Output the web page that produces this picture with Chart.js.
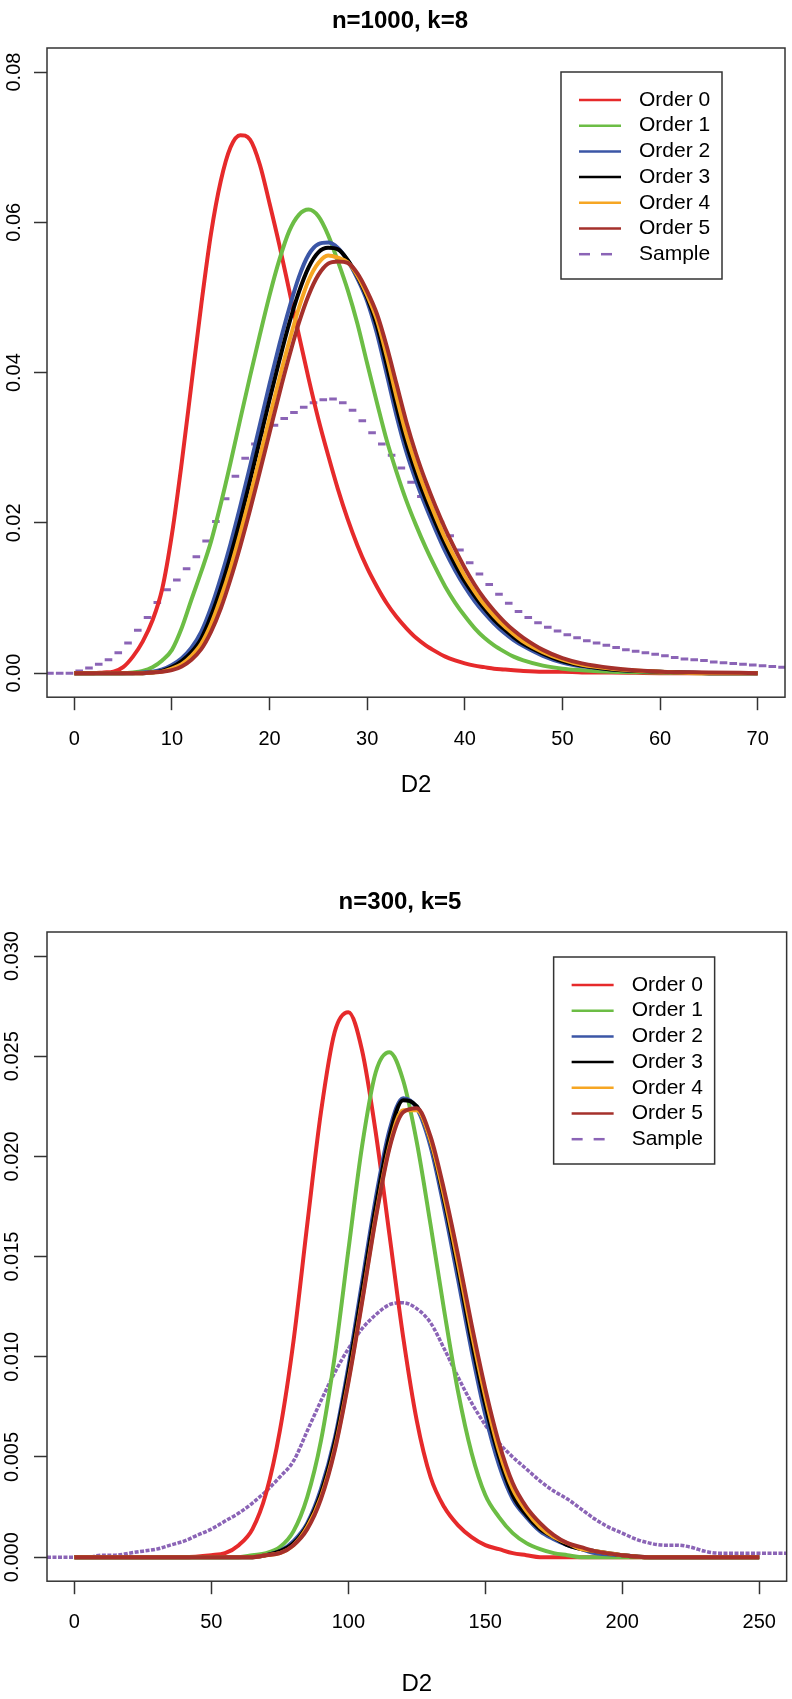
<!DOCTYPE html>
<html>
<head>
<meta charset="utf-8">
<title>D2 densities</title>
<script src="https://cdn.jsdelivr.net/npm/chart.js@4.4.0/dist/chart.umd.min.js"></script>
<style>
  html, body { margin: 0; padding: 0; background: #fff; }
  canvas { display: block; }
</style>
</head>
<body>
<canvas id="chart-top" width="792" height="850"></canvas>
<canvas id="chart-bottom" width="792" height="849"></canvas>
<script>
//Shared names and colours

var seriesNames = ["Order 0", "Order 1", "Order 2", "Order 3", "Order 4", "Order 5", "Sample"];
var seriesColors = ["#e62a2b", "#6cbd45", "#3b56a6", "#000000", "#f6a623", "#a5302b", "#8b64b6"];

//Top panel: n=1000, k=8

var titleTop = "n=1000, k=8";
var xTicksTop = [0, 10, 20, 30, 40, 50, 60, 70];
var yTicksTop = [0, 0.02, 0.04, 0.06, 0.08];
var yLabelsTop = ["0.00", "0.02", "0.04", "0.06", "0.08"];

var xTop = [0, 1, 2, 3, 4, 5, 6, 7, 8, 9,
    10, 11, 12, 13, 14, 15, 16, 17, 18, 19,
    20, 21, 22, 23, 24, 25, 26, 27, 28, 29,
    30, 31, 32, 33, 34, 35, 36, 37, 38, 39,
    40, 41, 42, 43, 44, 45, 46,
    48, 50, 52, 55, 60, 65, 70];

var order0Top = [0, 0, 0, 0.0001, 0.0002, 0.0008, 0.0022, 0.0042, 0.0070, 0.0112,
    0.0185, 0.0280, 0.0385, 0.0490, 0.0585, 0.0655, 0.0700, 0.0716, 0.0710, 0.0677,
    0.0625, 0.0570, 0.0510, 0.0450, 0.0392, 0.0338, 0.0290, 0.0245, 0.0205, 0.0170,
    0.0140, 0.0115, 0.0093, 0.0075, 0.0060, 0.0047, 0.0037, 0.0029, 0.0022, 0.0017,
    0.0013, 0.0010, 0.0008, 0.0006, 0.0005, 0.0004, 0.0003,
    0.0002, 0.0002, 0.0001, 0.0001, 0, 0, 0];
var order1Top = [0, 0, 0, 0, 0, 0, 0.0001, 0.0003, 0.0008, 0.0017,
    0.0031, 0.0060, 0.0098, 0.0135, 0.0175, 0.0225, 0.0280, 0.0338, 0.0395, 0.0450,
    0.0503, 0.0550, 0.0588, 0.0610, 0.0617, 0.0608, 0.0583, 0.0548, 0.0510, 0.0465,
    0.0412, 0.0360, 0.0310, 0.0268, 0.0230, 0.0197, 0.0167, 0.0140, 0.0115, 0.0094,
    0.0076, 0.0060, 0.0047, 0.0037, 0.0029, 0.0022, 0.0017,
    0.0010, 0.0006, 0.0004, 0.0002, 0.0001, 0, 0];
var order2Top = [0, 0, 0, 0, 0, 0, 0, 0.0001, 0.0002, 0.0005,
    0.0011, 0.0020, 0.0034, 0.0055, 0.0087, 0.0127, 0.0172, 0.0222, 0.0275, 0.0330,
    0.0385, 0.0437, 0.0485, 0.0527, 0.0557, 0.0571, 0.0573, 0.0566, 0.0549, 0.0525,
    0.0495, 0.0452, 0.0398, 0.0343, 0.0295, 0.0256, 0.0222, 0.0191, 0.0162, 0.0137,
    0.0115, 0.0096, 0.0080, 0.0066, 0.0054, 0.0044, 0.0036,
    0.0023, 0.0014, 0.0009, 0.0005, 0.0002, 0, 0];
var order3Top = [0, 0, 0, 0, 0, 0, 0, 0, 0.0001, 0.0003,
    0.0008, 0.0016, 0.0028, 0.0046, 0.0076, 0.0113, 0.0156, 0.0204, 0.0256, 0.0310,
    0.0364, 0.0416, 0.0465, 0.0507, 0.0540, 0.0560, 0.0566, 0.0564, 0.0550, 0.0528,
    0.0500, 0.0462, 0.0410, 0.0355, 0.0306, 0.0266, 0.0231, 0.0200, 0.0171, 0.0145,
    0.0122, 0.0103, 0.0086, 0.0071, 0.0059, 0.0048, 0.0039,
    0.0026, 0.0016, 0.0010, 0.0005, 0.0002, 0, 0];
var order4Top = [0, 0, 0, 0, 0, 0, 0, 0, 0.0001, 0.0002,
    0.0006, 0.0012, 0.0023, 0.0039, 0.0065, 0.0100, 0.0140, 0.0186, 0.0235, 0.0287,
    0.0340, 0.0392, 0.0441, 0.0486, 0.0523, 0.0546, 0.0556, 0.0553, 0.0547, 0.0529,
    0.0503, 0.0470, 0.0422, 0.0368, 0.0318, 0.0277, 0.0241, 0.0209, 0.0179, 0.0153,
    0.0129, 0.0109, 0.0091, 0.0076, 0.0063, 0.0052, 0.0042,
    0.0028, 0.0018, 0.0011, 0.0006, 0.0002, 0, 0];
var order5Top = [0, 0, 0, 0, 0, 0, 0, 0, 0.0001, 0.0002,
    0.0004, 0.0009, 0.0018, 0.0032, 0.0055, 0.0086, 0.0125, 0.0169, 0.0217, 0.0268,
    0.0320, 0.0372, 0.0421, 0.0466, 0.0503, 0.0530, 0.0545, 0.0548, 0.0546, 0.0532,
    0.0508, 0.0478, 0.0435, 0.0385, 0.0335, 0.0292, 0.0255, 0.0222, 0.0192, 0.0165,
    0.0140, 0.0118, 0.0099, 0.0083, 0.0069, 0.0057, 0.0047,
    0.0031, 0.0020, 0.0013, 0.0007, 0.0002, 0.0001, 0];

// sample histogram, one value per unit bin (bin centres)
var sampleXTop = [-2.5, -1.5, -0.5, 0.5, 1.5, 2.5, 3.5, 4.5, 5.5, 6.5,
    7.5, 8.5, 9.5, 10.5, 11.5, 12.5, 13.5, 14.5, 15.5, 16.5,
    17.5, 18.5, 19.5, 20.5, 21.5, 22.5, 23.5, 24.5, 25.5, 26.5,
    27.5, 28.5, 29.5, 30.5, 31.5, 32.5, 33.5, 34.5, 35.5, 36.5,
    37.5, 38.5, 39.5, 40.5, 41.5, 42.5, 43.5, 44.5, 45.5, 46.5,
    47.5, 48.5, 49.5, 50.5, 51.5, 52.5, 53.5, 54.5, 55.5, 56.5,
    57.5, 58.5, 59.5, 60.5, 61.5, 62.5, 63.5, 64.5, 65.5, 66.5,
    67.5, 68.5, 69.5, 70.5, 71.5, 72.5, 73.5];
var sampleTop = [0, 0, 0, 0.0003, 0.0007, 0.0012, 0.0018, 0.0027, 0.0040, 0.0057,
    0.0074, 0.0094, 0.0111, 0.0124, 0.0139, 0.0155, 0.0176, 0.0202, 0.0232, 0.0262,
    0.0286, 0.0305, 0.0320, 0.0330, 0.0339, 0.0347, 0.0354, 0.0360, 0.0364, 0.0365,
    0.0360, 0.0350, 0.0336, 0.0320, 0.0305, 0.0290, 0.0273, 0.0254, 0.0235, 0.0217,
    0.0201, 0.0183, 0.0164, 0.0147, 0.0132, 0.0118, 0.0105, 0.0093, 0.0082, 0.0074,
    0.0067, 0.0061, 0.0056, 0.0051, 0.0047, 0.0043, 0.0040, 0.0037, 0.0034, 0.0031,
    0.0029, 0.0027, 0.0025, 0.0023, 0.0021, 0.0019, 0.0018, 0.0017, 0.0015, 0.0014,
    0.0013, 0.0012, 0.0011, 0.0010, 0.0009, 0.0008, 0.0008];

//Bottom panel: n=300, k=5

var titleBottom = "n=300, k=5";
var xTicksBottom = [0, 50, 100, 150, 200, 250];
var yTicksBottom = [0, 0.005, 0.010, 0.015, 0.020, 0.025, 0.030];
var yLabelsBottom = ["0.000", "0.005", "0.010", "0.015", "0.020", "0.025", "0.030"];

var xBottom = [0, 10, 20, 30, 40,
    50, 55, 60, 65, 70, 75, 80, 85, 90, 95,
    100, 105, 110, 115, 120, 125, 130, 135, 140, 145,
    150, 155, 160, 165, 170, 175, 180, 185, 190,
    200, 210, 220, 230, 240, 250];

var order0Bottom = [0, 0, 0, 0, 0,
    0.0001, 0.0002, 0.0006, 0.0014, 0.0032, 0.0063, 0.0108, 0.0166, 0.0222, 0.0262,
    0.0272, 0.0253, 0.0212, 0.0161, 0.0110, 0.0068, 0.0040, 0.0025, 0.0016, 0.0010,
    0.0006, 0.0004, 0.0002, 0.0001, 0, 0, 0, 0, 0,
    0, 0, 0, 0, 0, 0];
var order1Bottom = [0, 0, 0, 0, 0,
    0, 0, 0, 0.0001, 0.0002, 0.0005, 0.0013, 0.0030, 0.0058, 0.0100,
    0.0153, 0.0205, 0.0242, 0.0252, 0.0238, 0.0207, 0.0166, 0.0123, 0.0083, 0.0052,
    0.0031, 0.0020, 0.0012, 0.0007, 0.0004, 0.0002, 0.0001, 0, 0,
    0, 0, 0, 0, 0, 0];
var order2Bottom = [0, 0, 0, 0, 0,
    0, 0, 0, 0, 0.0001, 0.0003, 0.0008, 0.0017, 0.0034, 0.0059,
    0.0095, 0.0137, 0.0179, 0.0213, 0.0229, 0.0224, 0.0205, 0.0174, 0.0139, 0.0103,
    0.0071, 0.0046, 0.0029, 0.0020, 0.0013, 0.0009, 0.0006, 0.0004, 0.0002,
    0.0001, 0, 0, 0, 0, 0];
var order3Bottom = [0, 0, 0, 0, 0,
    0, 0, 0, 0, 0.0001, 0.0003, 0.0007, 0.0016, 0.0032, 0.0057,
    0.0092, 0.0133, 0.0175, 0.0210, 0.0228, 0.0225, 0.0208, 0.0178, 0.0144, 0.0108,
    0.0076, 0.0050, 0.0031, 0.0021, 0.0014, 0.0010, 0.0006, 0.0004, 0.0003,
    0.0001, 0, 0, 0, 0, 0];
var order4Bottom = [0, 0, 0, 0, 0,
    0, 0, 0, 0, 0.0001, 0.0002, 0.0006, 0.0015, 0.0030, 0.0054,
    0.0088, 0.0128, 0.0170, 0.0205, 0.0223, 0.0223, 0.0208, 0.0180, 0.0147, 0.0112,
    0.0080, 0.0053, 0.0034, 0.0023, 0.0015, 0.0010, 0.0007, 0.0004, 0.0003,
    0.0001, 0, 0, 0, 0, 0];
var order5Bottom = [0, 0, 0, 0, 0,
    0, 0, 0, 0, 0.0001, 0.0002, 0.0006, 0.0014, 0.0029, 0.0053,
    0.0087, 0.0127, 0.0169, 0.0204, 0.0222, 0.0224, 0.0210, 0.0183, 0.0151, 0.0116,
    0.0084, 0.0057, 0.0037, 0.0025, 0.0017, 0.0011, 0.0007, 0.0005, 0.0003,
    0.0001, 0, 0, 0, 0, 0];

var sampleXBottom = [-10, 0, 5, 10, 15, 20, 25, 30, 35, 40, 45,
    50, 55, 60, 65, 70, 75, 80, 85, 90, 95,
    100, 105, 110, 115, 120, 125, 130, 135, 140, 145,
    150, 155, 160, 165, 170, 175, 180, 185, 190, 195,
    200, 205, 210, 215, 220, 225, 230, 235, 240, 245,
    250, 260];
var sampleBottom = [0, 0, 0, 0.0001, 0.0001, 0.0002, 0.0003, 0.0004, 0.0006, 0.0008, 0.0011,
    0.0014, 0.0018, 0.0022, 0.0027, 0.0033, 0.0040, 0.0048, 0.0063, 0.0078, 0.0092,
    0.0104, 0.0114, 0.0121, 0.0126, 0.0127, 0.0124, 0.0117, 0.0104, 0.0090, 0.0077,
    0.0066, 0.0057, 0.0050, 0.0044, 0.0038, 0.0033, 0.0029, 0.0024, 0.0019, 0.0015,
    0.0012, 0.0009, 0.0007, 0.0006, 0.0006, 0.0005, 0.0003, 0.0002, 0.0002, 0.0002,
    0.0002, 0.0002];

//Helpers

var fontFamily = "'Liberation Sans', Arial, Helvetica, sans-serif";
Chart.defaults.font.family = fontFamily;
Chart.defaults.color = "#000";

function points(xs, ys) {
    return xs.map(function (x, i) {
        return { x: x, y: ys[i] };
    });
}

function curve(i, xs, ys) {
    return {
        label: seriesNames[i],
        data: points(xs, ys),
        borderColor: seriesColors[i],
        borderWidth: 4,
        pointRadius: 0,
        cubicInterpolationMode: "monotone",
        order: 5 - i
    };
}

// frame around the plot region, rotated y labels (R style) and legend box
var framePlugin = {
    id: "frame",
    afterDraw: function (chart, args, opts) {
        var ctx = chart.ctx,
            area = chart.chartArea,
            yScale = chart.scales.y;
        ctx.save();
        ctx.strokeStyle = "#333";
        ctx.lineWidth = 1.5;
        ctx.strokeRect(area.left, area.top, area.right - area.left, area.bottom - area.top);

        ctx.fillStyle = "#000";
        ctx.font = "20px " + fontFamily;
        ctx.textAlign = "center";
        ctx.textBaseline = "middle";
        yScale.ticks.forEach(function (tick, i) {
            ctx.save();
            ctx.translate(opts.labelX, yScale.getPixelForValue(tick.value));
            ctx.rotate(-Math.PI / 2);
            ctx.fillText(opts.yLabels[i], 0, 0);
            ctx.restore();
        });

        var left = area.right - opts.right - opts.width,
            top = area.top + opts.top;
        ctx.fillStyle = "#fff";
        ctx.fillRect(left, top, opts.width, opts.height);
        ctx.strokeRect(left, top, opts.width, opts.height);

        ctx.font = "21px " + fontFamily;
        ctx.textAlign = "left";
        chart.data.datasets.forEach(function (ds, i) {
            var y = top + 28 + i * 25.7;
            ctx.beginPath();
            ctx.setLineDash(i === 6 ? [11, 11] : []);
            ctx.strokeStyle = seriesColors[i];
            ctx.lineWidth = 2.5;
            ctx.moveTo(left + 18, y);
            ctx.lineTo(left + 60, y);
            ctx.stroke();
            ctx.setLineDash([]);
            ctx.fillStyle = "#000";
            ctx.fillText(ds.label, left + 78, y);
        });
        ctx.restore();
    }
};

function axisOptions(min, max, ticks, labels, vertical) {
    var opts = {
        type: "linear",
        min: min,
        max: max,
        afterBuildTicks: function (scale) {
            scale.ticks = ticks.map(function (v) {
                return { value: v };
            });
        },
        grid: {
            drawOnChartArea: false,
            drawTicks: true,
            tickLength: 13,
            tickColor: "#333",
            tickWidth: 1.5
        },
        border: { display: false },
        ticks: {
            autoSkip: false,
            font: { size: 20 },
            color: "#000",
            callback: function (value, index) {
                return labels[index];
            }
        }
    };
    if (vertical) {
        // labels are drawn rotated by the frame plugin
        opts.ticks.display = false;
        opts.afterFit = function (scale) {
            scale.width = 37;
        };
    }
    return opts;
}

//Top chart

var xLabelsTop = xTicksTop.map(String);
var topOptionsX = axisOptions(-2.8, 72.8, xTicksTop, xLabelsTop, false);
topOptionsX.ticks.padding = 17;
topOptionsX.title = { display: true, text: "D2", font: { size: 24 }, color: "#000", padding: { top: 3, bottom: 0 } };

new Chart(document.getElementById("chart-top"), {
    type: "line",
    data: {
        datasets: [
            curve(0, xTop, order0Top),
            curve(1, xTop, order1Top),
            curve(2, xTop, order2Top),
            curve(3, xTop, order3Top),
            curve(4, xTop, order4Top),
            curve(5, xTop, order5Top),
            {
                label: seriesNames[6],
                data: points(sampleXTop, sampleTop),
                showLine: false,
                pointStyle: "line",
                pointRadius: 3.8,
                pointBorderWidth: 3,
                pointBorderColor: seriesColors[6],
                borderColor: seriesColors[6],
                order: 6
            }
        ]
    },
    options: {
        responsive: false,
        animation: false,
        events: [],
        layout: { padding: { left: 10, right: 2, top: 0, bottom: 50 } },
        scales: {
            x: topOptionsX,
            y: axisOptions(-0.0032, 0.0832, yTicksTop, yLabelsTop, true)
        },
        plugins: {
            legend: { display: false },
            tooltip: { enabled: false },
            title: {
                display: true,
                text: titleTop,
                color: "#000",
                font: { size: 24, weight: "bold" },
                padding: { top: 7, bottom: 12.2 }
            },
            frame: { right: 63, top: 24, width: 161, height: 207, labelX: 14, yLabels: yLabelsTop }
        }
    },
    plugins: [framePlugin]
});

//Bottom chart

var xLabelsBottom = xTicksBottom.map(String);
var bottomOptionsX = axisOptions(-10, 260, xTicksBottom, xLabelsBottom, false);
bottomOptionsX.ticks.padding = 16;
bottomOptionsX.title = { display: true, text: "D2", font: { size: 24 }, color: "#000", padding: { top: 20, bottom: 0 } };

new Chart(document.getElementById("chart-bottom"), {
    type: "line",
    data: {
        datasets: [
            curve(0, xBottom, order0Bottom),
            curve(1, xBottom, order1Bottom),
            curve(2, xBottom, order2Bottom),
            curve(3, xBottom, order3Bottom),
            curve(4, xBottom, order4Bottom),
            curve(5, xBottom, order5Bottom),
            {
                label: seriesNames[6],
                data: points(sampleXBottom, sampleBottom),
                borderColor: seriesColors[6],
                borderWidth: 3.5,
                borderDash: [4, 1.5],
                pointRadius: 0,
                cubicInterpolationMode: "monotone",
                order: 6
            }
        ]
    },
    options: {
        responsive: false,
        animation: false,
        events: [],
        layout: { padding: { left: 10, right: 2, top: 0, bottom: 0 } },
        scales: {
            x: bottomOptionsX,
            y: axisOptions(-0.0012, 0.0312, yTicksBottom, yLabelsBottom, true)
        },
        plugins: {
            legend: { display: false },
            tooltip: { enabled: false },
            title: {
                display: true,
                text: titleBottom,
                color: "#000",
                font: { size: 24, weight: "bold" },
                padding: { top: 38, bottom: 15.2 }
            },
            frame: { right: 72, top: 25, width: 161, height: 207, labelX: 12, yLabels: yLabelsBottom }
        }
    },
    plugins: [framePlugin]
});
</script>
</body>
</html>
